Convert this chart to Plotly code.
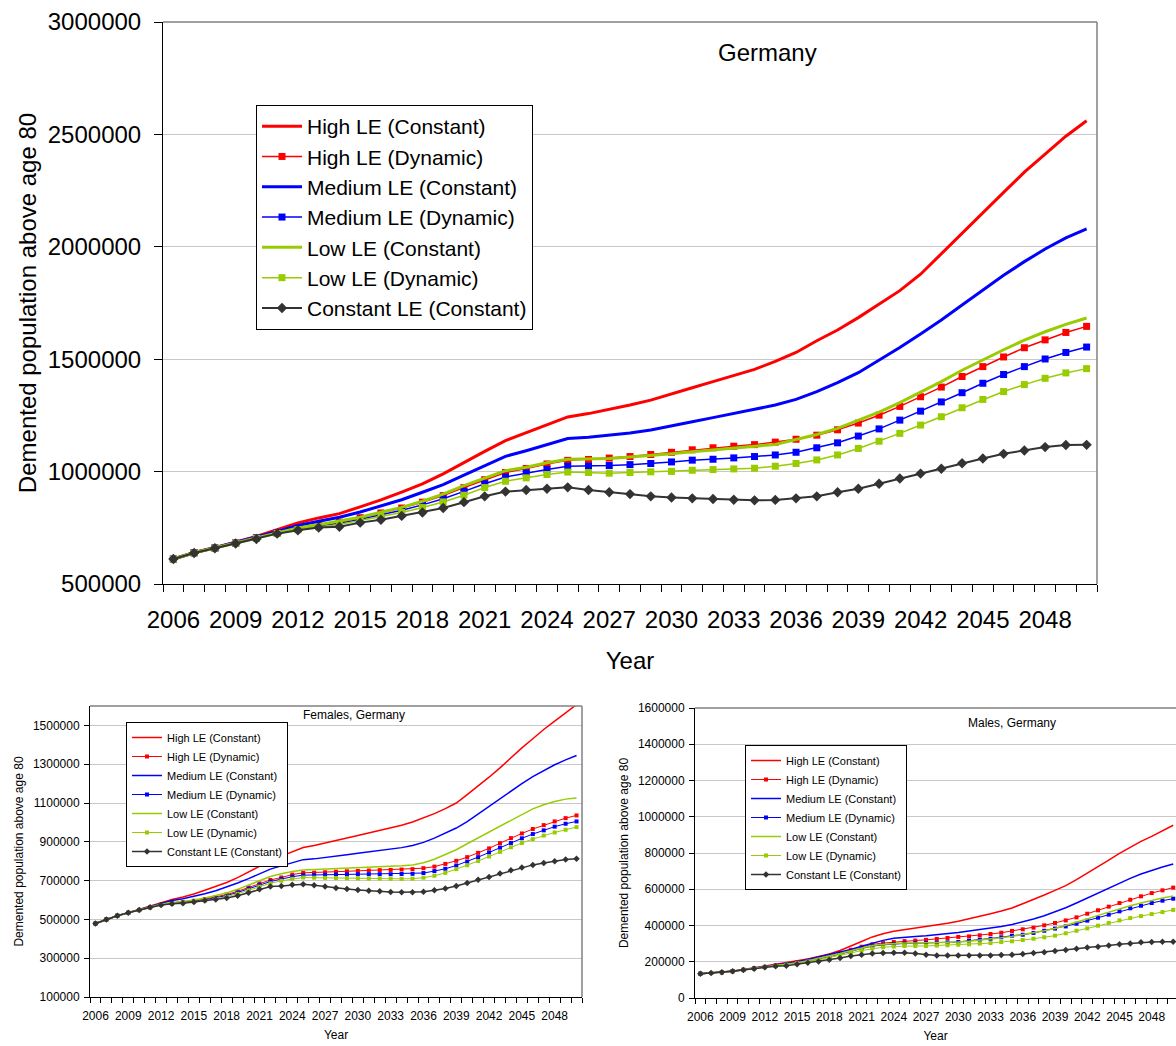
import plotly.graph_objects as go

YEARS = list(range(2006, 2051))
TICK_YEARS = YEARS[::3]

SERIES_NAMES = [
    "High LE (Constant)",
    "High LE (Dynamic)",
    "Medium LE (Constant)",
    "Medium LE (Dynamic)",
    "Low LE (Constant)",
    "Low LE (Dynamic)",
    "Constant LE (Constant)",
]

# Demented population above age 80, in thousands -- Germany, total
DE_HIGH_CONST = [611, 640, 662, 686, 712, 742, 772, 794, 813, 843, 874, 909, 945, 990, 1041,
                 1090, 1138, 1172, 1209, 1243, 1258, 1276, 1296, 1318, 1344, 1373, 1400, 1426, 1455, 1490,
                 1530, 1582, 1630, 1685, 1745, 1805, 1878, 1970, 2060, 2152, 2242, 2332, 2414, 2492, 2561]
DE_HIGH_DYN = [611, 639, 660, 682, 705, 728, 748, 762, 775, 795, 816, 838, 864, 893, 929,
               964, 996, 1014, 1034, 1050, 1054, 1060, 1067, 1076, 1086, 1097, 1106, 1113, 1120, 1131,
               1144, 1162, 1186, 1216, 1251, 1290, 1333, 1376, 1423, 1467, 1510, 1551, 1586, 1619, 1646]
DE_MED_CONST = [611, 639, 661, 684, 709, 734, 760, 779, 797, 820, 849, 875, 908, 942, 984,
                1027, 1068, 1093, 1120, 1147, 1153, 1162, 1172, 1185, 1202, 1222, 1240, 1257, 1277, 1296,
                1321, 1356, 1396, 1440, 1496, 1552, 1612, 1674, 1741, 1808, 1873, 1934, 1990, 2040, 2080]
DE_MED_DYN = [611, 639, 660, 682, 705, 727, 745, 758, 770, 788, 808, 828, 852, 879, 912,
              946, 976, 994, 1009, 1024, 1024, 1027, 1031, 1036, 1043, 1051, 1055, 1061, 1067, 1074,
              1086, 1106, 1128, 1158, 1190, 1229, 1269, 1310, 1351, 1393, 1432, 1467, 1501, 1530, 1554]
DE_LOW_CONST = [611, 639, 660, 683, 706, 728, 749, 764, 779, 797, 819, 841, 868, 900, 938,
                972, 1004, 1019, 1039, 1055, 1058, 1058, 1065, 1071, 1079, 1088, 1097, 1106, 1113, 1121,
                1143, 1165, 1192, 1228, 1265, 1307, 1354, 1400, 1451, 1497, 1542, 1585, 1622, 1655, 1683]
DE_LOW_DYN = [611, 638, 659, 681, 703, 725, 742, 754, 765, 782, 800, 818, 840, 865, 895,
              929, 957, 972, 987, 998, 996, 993, 996, 999, 1001, 1006, 1009, 1012, 1015, 1024,
              1036, 1052, 1074, 1103, 1135, 1170, 1207, 1244, 1284, 1321, 1356, 1387, 1415, 1439, 1458]
DE_CONST_LE = [611, 638, 659, 680, 700, 724, 739, 751, 755, 773, 786, 803, 818, 838, 864,
               890, 911, 918, 924, 930, 918, 908, 900, 890, 885, 881, 878, 875, 872, 874,
               881, 890, 908, 924, 946, 969, 991, 1013, 1037, 1058, 1079, 1094, 1109, 1118, 1119]

# Females, Germany (thousands)
F_HIGH_CONST = [479, 500, 519, 535, 552, 570, 588, 603, 616, 631, 650, 669, 690, 715, 745,
                772, 803, 826, 850, 871, 881, 893, 906, 920, 933, 946, 958, 971, 985, 1002,
                1022, 1045, 1071, 1100, 1143, 1186, 1233, 1281, 1333, 1384, 1431, 1479, 1522, 1566, 1607]
F_HIGH_DYN = [479, 500, 519, 534, 549, 563, 576, 584, 589, 596, 605, 615, 628, 645, 665,
              686, 703, 716, 731, 740, 741, 743, 746, 748, 750, 752, 754, 755, 757, 759,
              764, 772, 786, 802, 821, 843, 866, 893, 919, 943, 966, 986, 1005, 1022, 1036]
F_MED_CONST = [479, 500, 519, 535, 551, 568, 585, 597, 607, 618, 632, 648, 666, 688, 710,
               733, 759, 776, 793, 808, 812, 818, 826, 833, 841, 848, 855, 862, 870, 881,
               897, 919, 943, 971, 1004, 1043, 1083, 1122, 1163, 1200, 1236, 1268, 1297, 1322, 1345]
F_MED_DYN = [479, 500, 519, 534, 548, 562, 575, 582, 587, 593, 601, 611, 623, 639, 658,
             678, 695, 708, 720, 728, 729, 730, 731, 732, 733, 733, 733, 733, 734, 735,
             739, 749, 761, 778, 798, 821, 845, 870, 894, 918, 940, 959, 978, 993, 1005]
F_LOW_CONST = [479, 500, 519, 534, 549, 564, 578, 587, 593, 600, 610, 622, 636, 655, 677,
               700, 721, 735, 747, 755, 757, 759, 762, 765, 767, 769, 771, 773, 776, 781,
               792, 810, 833, 859, 890, 920, 953, 984, 1014, 1043, 1070, 1091, 1108, 1120, 1126]
F_LOW_DYN = [479, 500, 519, 534, 548, 562, 574, 580, 584, 590, 597, 606, 617, 632, 650,
             669, 686, 699, 709, 716, 715, 714, 713, 712, 711, 710, 710, 709, 709, 710,
             715, 725, 740, 759, 779, 801, 824, 848, 872, 894, 914, 932, 948, 962, 976]
F_CONST_LE = [479, 500, 519, 534, 548, 562, 574, 581, 583, 590, 597, 603, 610, 622, 638,
              655, 669, 672, 678, 681, 676, 669, 662, 657, 652, 648, 645, 641, 640, 640,
              643, 650, 659, 672, 688, 705, 719, 736, 753, 767, 781, 791, 800, 809, 812]

# Males, Germany (thousands)
M_HIGH_CONST = [134, 138, 143, 149, 157, 166, 175, 183, 195, 205, 215, 228, 243, 262, 285,
                312, 337, 355, 368, 377, 383, 391, 401, 412, 423, 436, 451, 465, 480, 497,
                520, 543, 568, 594, 620, 653, 688, 725, 761, 798, 833, 864, 892, 923, 953]
M_HIGH_DYN = [134, 138, 142, 148, 156, 164, 172, 180, 187, 196, 207, 219, 233, 249, 266,
              283, 296, 303, 309, 314, 317, 321, 326, 331, 337, 340, 346, 353, 360, 370,
              379, 388, 401, 414, 428, 445, 465, 484, 504, 524, 542, 561, 579, 594, 609]
M_MED_CONST = [134, 138, 143, 148, 156, 164, 172, 181, 190, 200, 212, 225, 238, 252, 268,
               286, 303, 318, 330, 337, 340, 344, 349, 355, 362, 370, 377, 384, 394, 405,
               419, 436, 454, 474, 498, 524, 552, 579, 605, 634, 660, 684, 704, 723, 739]
M_MED_DYN = [134, 138, 142, 148, 155, 163, 171, 178, 186, 194, 204, 215, 228, 242, 257,
             273, 286, 293, 298, 301, 302, 303, 305, 307, 309, 316, 322, 327, 335, 344,
             349, 359, 371, 383, 395, 410, 427, 443, 460, 478, 495, 509, 524, 537, 548]
M_LOW_CONST = [134, 138, 142, 148, 156, 163, 171, 179, 187, 195, 205, 217, 230, 245, 261,
               277, 290, 296, 300, 303, 303, 304, 305, 307, 309, 313, 318, 326, 332, 340,
               349, 359, 371, 384, 401, 417, 436, 456, 474, 493, 509, 524, 539, 552, 563]
M_LOW_DYN = [134, 138, 142, 147, 155, 162, 170, 177, 184, 192, 201, 211, 222, 235, 248,
             262, 273, 280, 284, 287, 287, 287, 289, 291, 294, 296, 300, 303, 309, 313,
             320, 327, 335, 344, 357, 371, 384, 399, 414, 428, 441, 452, 463, 474, 486]
M_CONST_LE = [134, 138, 142, 147, 155, 162, 169, 175, 178, 186, 195, 202, 211, 221, 232,
              239, 246, 248, 250, 250, 245, 239, 235, 235, 235, 235, 235, 235, 237, 239,
              243, 248, 253, 259, 265, 272, 279, 283, 290, 296, 301, 307, 309, 311, 311]

PANELS = [
    dict(key="main", title="Germany",
         data=[DE_HIGH_CONST, DE_HIGH_DYN, DE_MED_CONST, DE_MED_DYN,
               DE_LOW_CONST, DE_LOW_DYN, DE_CONST_LE]),
    dict(key="fem", title="Females, Germany",
         data=[F_HIGH_CONST, F_HIGH_DYN, F_MED_CONST, F_MED_DYN,
               F_LOW_CONST, F_LOW_DYN, F_CONST_LE]),
    dict(key="male", title="Males, Germany",
         data=[M_HIGH_CONST, M_HIGH_DYN, M_MED_CONST, M_MED_DYN,
               M_LOW_CONST, M_LOW_DYN, M_CONST_LE]),
]

RED, BLUE, GREEN, GREY = "#FF0000", "#0000FF", "#99CC00", "#333333"
SERIES_COLORS = [RED, RED, BLUE, BLUE, GREEN, GREEN, GREY]
SERIES_KIND = ["const", "dyn", "const", "dyn", "const", "dyn", "cle"]

W, H = 1176, 1046
FONT = "Liberation Sans, Arial, Helvetica, sans-serif"

# pixel boxes of the three plot areas: left, right, top, bottom
BOX = {
    "main": (163, 1097, 22, 584),
    "fem": (90, 582, 706, 997),
    "male": (695, 1176, 708, 998),
}
AXES = {"main": ("x", "y", "legend"), "fem": ("x2", "y2", "legend2"), "male": ("x3", "y3", "legend3")}

STYLE = {
    "main": dict(const_w=3, dyn_w=1.5, sq=7, cle_w=2, dia=8),
    "fem": dict(const_w=1.5, dyn_w=1, sq=4, cle_w=1.5, dia=5),
    "male": dict(const_w=1.5, dyn_w=1, sq=4, cle_w=1.5, dia=5),
}

fig = go.Figure()

for panel in PANELS:
    key = panel["key"]
    xa, ya, lg = AXES[key]
    st = STYLE[key]
    for name, vals, color, kind in zip(SERIES_NAMES, panel["data"], SERIES_COLORS, SERIES_KIND):
        y = [v * 1000 for v in vals]
        if kind == "const":
            tr = go.Scatter(x=YEARS, y=y, mode="lines", line=dict(color=color, width=st["const_w"]))
        elif kind == "dyn":
            tr = go.Scatter(x=YEARS, y=y, mode="lines+markers",
                            line=dict(color=color, width=st["dyn_w"]),
                            marker=dict(symbol="square", size=st["sq"], color=color))
        else:
            tr = go.Scatter(x=YEARS, y=y, mode="lines+markers",
                            line=dict(color=color, width=st["cle_w"]),
                            marker=dict(symbol="diamond", size=st["dia"], color=color))
        tr.update(name=name, xaxis=xa, yaxis=ya, legend=lg)
        fig.add_trace(tr)


def px_dom_x(l, r):
    return [l / W, min(r / W, 1.0)]


def px_dom_y(t, b):
    return [1 - b / H, 1 - t / H]


def x_axis(key, fs, ticklen, standoff, title_standoff, xmax):
    l, r, t, b = BOX[key]
    return dict(
        domain=px_dom_x(l, r), range=[2005.5, xmax],
        tickmode="array", tickvals=TICK_YEARS, ticktext=[str(v) for v in TICK_YEARS],
        ticks="", showgrid=False, zeroline=False,
        showline=True, linecolor="black", linewidth=1,
        minor=dict(tickmode="array", tickvals=[v - 0.5 for v in YEARS] + [2050.5],
                   ticks="outside", ticklen=ticklen, tickcolor="black", tickwidth=1, showgrid=False),
        tickfont=dict(size=fs, color="black", family=FONT),
        ticklabelstandoff=standoff,
        title=dict(text="Year", font=dict(size=fs, color="black", family=FONT), standoff=title_standoff),
        automargin=False, fixedrange=True,
    )


def y_axis(key, fs, rng, dtick, tick0, ticklen, label_standoff, title_standoff):
    l, r, t, b = BOX[key]
    return dict(
        domain=px_dom_y(t, b), range=rng, tickmode="linear", tick0=tick0, dtick=dtick,
        tickformat="d", ticks="outside", ticklen=ticklen, tickcolor="black",
        showline=True, linecolor="black", linewidth=1,
        showgrid=True, gridcolor="#C8C8C8", gridwidth=1, zeroline=False,
        tickfont=dict(size=fs, color="black", family=FONT),
        ticklabelstandoff=label_standoff,
        title=dict(text="Demented population above age 80",
                   font=dict(size=fs, color="black", family=FONT), standoff=title_standoff),
        automargin=False, fixedrange=True,
    )


fig.update_layout(
    xaxis=dict(anchor="y", **x_axis("main", 24, 7, 14, 20, 2050.5)),
    yaxis=dict(anchor="x", **y_axis("main", 24, [500000, 3000000], 500000, 500000, 8, 8, 4)),
    xaxis2=dict(anchor="y2", **x_axis("fem", 12, 5, 8, 8, 2050.5)),
    yaxis2=dict(anchor="x2", **y_axis("fem", 12, [100000, 1600000], 200000, 100000, 5, 2, 6)),
    xaxis3=dict(anchor="y3", **x_axis("male", 12, 5, 8, 8, 2050.26)),
    yaxis3=dict(anchor="x3", **y_axis("male", 12, [0, 1600000], 200000, 0, 5, 2, 6)),
)

# legend boxes: left px, top px, font size, symbol width
LEGEND_POS = {"legend": (256, 105, 21, 40), "legend2": (126, 722, 11, 30), "legend3": (745, 745, 11, 30)}
for lg, (lx, ly, fs, iw) in LEGEND_POS.items():
    fig.update_layout(**{lg: dict(
        x=lx / W, y=1 - ly / H, xanchor="left", yanchor="top",
        bgcolor="white", bordercolor="black", borderwidth=1,
        font=dict(size=fs, color="black", family=FONT),
        tracegroupgap=0, itemwidth=iw,
    )})

# grey frame on the top and right sides of each plot area
shapes = []
for key, (xa, ya, _) in AXES.items():
    xd, yd = f"{xa} domain", f"{ya} domain"
    shapes.append(dict(type="line", xref=xd, yref=yd, x0=0, x1=1, y0=1, y1=1,
                       line=dict(color="#808080", width=1.5)))
    if key != "male":
        shapes.append(dict(type="line", xref=xd, yref=yd, x0=1, x1=1, y0=0, y1=1,
                           line=dict(color="#808080", width=1.5)))

TITLE_POS = {"main": (767, 52, 24), "fem": (354, 715, 12), "male": (1012, 723, 12)}
annotations = []
for panel in PANELS:
    tx, ty, fs = TITLE_POS[panel["key"]]
    annotations.append(dict(text=panel["title"], x=tx / W, y=1 - ty / H, xref="paper", yref="paper",
                            xanchor="center", yanchor="middle", showarrow=False,
                            font=dict(size=fs, color="black", family=FONT)))

fig.update_layout(
    width=W, height=H, margin=dict(l=0, r=0, t=0, b=0),
    paper_bgcolor="white", plot_bgcolor="white",
    font=dict(family=FONT, color="black"),
    shapes=shapes, annotations=annotations,
)

fig.write_html("out.html")
